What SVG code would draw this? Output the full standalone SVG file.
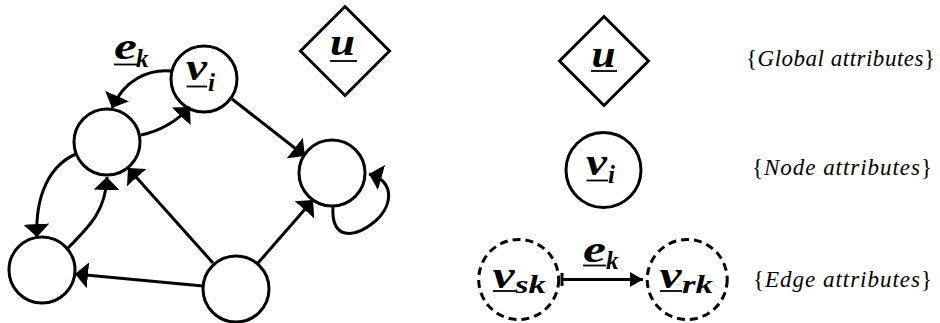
<svg xmlns="http://www.w3.org/2000/svg" width="940" height="323" viewBox="0 0 940 323">
<defs>
<style>
.nd{fill:#fff;stroke:#000;stroke-width:3}
.dash{fill:#fff;stroke:#000;stroke-width:3;stroke-dasharray:8 5}
.m{font-weight:bold;font-style:italic;font-size:37px;fill:#000}
.s{font-size:25px}
.ul{stroke:#000;stroke-width:1.8}
.e{fill:none;stroke:#000;stroke-width:3;marker-end:url(#h90)}
.lg{font-style:italic;font-size:23px;fill:#000}
.up{font-style:normal}
</style>
<marker id="h90" markerUnits="userSpaceOnUse" viewBox="0 0 13 26" markerWidth="13" markerHeight="26" refX="13" refY="13" orient="auto">
<path d="M0,0 L13,13 L0,26 Z" fill="#000"/>
</marker>
<marker id="h60" markerUnits="userSpaceOnUse" viewBox="0 0 13 15" markerWidth="13" markerHeight="15" refX="13" refY="7.5" orient="auto">
<path d="M0,0 L13,7.5 L0,15 Z" fill="#000"/>
</marker>
</defs>
<rect width="940" height="323" fill="#fff"/>
<g font-family="Liberation Serif, Times New Roman, serif">
<g id="node-u">
<polygon class="nd" points="345,6.5 389.5,51 345,95.5 300.5,51"/>
<text class="m" x="330" y="55" textLength="25" lengthAdjust="spacingAndGlyphs">u</text>
<line class="ul" x1="330" y1="61" x2="357" y2="61"/>
</g>
<g id="node-vi">
<circle class="nd" cx="204" cy="79" r="33"/>
<text class="m" x="186" y="80" textLength="21" lengthAdjust="spacingAndGlyphs">v</text>
<text class="m s" x="208" y="91">i</text>
<line class="ul" x1="186.5" y1="86.5" x2="207" y2="86.5"/>
</g>
<g id="node-a"><circle class="nd" cx="107" cy="142" r="33"/></g>
<g id="node-b"><circle class="nd" cx="42" cy="270" r="33"/></g>
<g id="node-c"><circle class="nd" cx="236" cy="289" r="33"/></g>
<g id="node-d"><circle class="nd" cx="332" cy="173" r="33"/></g>

<g id="label-ek">
<text class="m" x="114" y="59" textLength="23" lengthAdjust="spacingAndGlyphs">e</text>
<text class="m s" x="136" y="67">k</text>
<line class="ul" x1="114" y1="64.5" x2="137" y2="64.5"/>
</g>

<g id="connectors">
<path class="e" d="M171,71 C148,69 124,80 112,108"/>
<path class="e" d="M141,135 C160,131 176,122 190,107"/>
<path class="e" d="M232,99 L305,156"/>
<path class="e" d="M76,154 C50,165 35,195 37,237"/>
<path class="e" d="M68,248 C90,226 106,210 107,177"/>
<path class="e" d="M213,263 L128,168"/>
<path class="e" d="M203,286 L75,274"/>
<path class="e" d="M258,263 L313,200"/>
<path class="e" d="M333,207 C331,240 354,238 373,223 C392,208 397,182 369,174"/>
</g>

<g id="legend-u">
<polygon class="nd" points="604,16.5 648.5,61 604,105.5 559.5,61"/>
<text class="m" x="591.5" y="66.5" textLength="24" lengthAdjust="spacingAndGlyphs">u</text>
<line class="ul" x1="591" y1="71" x2="617" y2="71"/>
<text class="lg" x="746" y="66" textLength="189" lengthAdjust="spacing"><tspan class="up">{</tspan>Global attributes<tspan class="up">}</tspan></text>
</g>
<g id="legend-vi">
<circle class="nd" cx="603.5" cy="170" r="37.5"/>
<text class="m" x="586" y="175" textLength="21" lengthAdjust="spacingAndGlyphs">v</text>
<text class="m s" x="608" y="183">i</text>
<line class="ul" x1="586.5" y1="180.5" x2="608" y2="180.5"/>
<text class="lg" x="752" y="175" textLength="180" lengthAdjust="spacing"><tspan class="up">{</tspan>Node attributes<tspan class="up">}</tspan></text>
</g>
<g id="legend-vsk">
<circle class="dash" cx="518.7" cy="279.5" r="40"/>
<text class="m" x="492.5" y="288" textLength="22" lengthAdjust="spacingAndGlyphs">v</text>
<text class="m s" x="515" y="293" textLength="31" lengthAdjust="spacingAndGlyphs">sk</text>
<line class="ul" x1="493" y1="291" x2="515" y2="291"/>
</g>
<g id="legend-vrk">
<circle class="dash" cx="687.2" cy="279.5" r="40"/>
<text class="m" x="659.5" y="288" textLength="22" lengthAdjust="spacingAndGlyphs">v</text>
<text class="m s" x="682" y="293" textLength="31" lengthAdjust="spacingAndGlyphs">rk</text>
<line class="ul" x1="660" y1="291" x2="682" y2="291"/>
</g>
<g id="legend-edge">
<line x1="562" y1="273" x2="562" y2="286" stroke="#000" stroke-width="3"/>
<line x1="562" y1="279.5" x2="643" y2="279.5" stroke="#000" stroke-width="3" marker-end="url(#h60)"/>
<text class="m" x="583" y="262" textLength="23" lengthAdjust="spacingAndGlyphs">e</text>
<text class="m s" x="606" y="269">k</text>
<line class="ul" x1="583" y1="265.5" x2="606" y2="265.5"/>
<text class="lg" x="753" y="287" textLength="179" lengthAdjust="spacing"><tspan class="up">{</tspan>Edge attributes<tspan class="up">}</tspan></text>
</g>
</g>
</svg>
